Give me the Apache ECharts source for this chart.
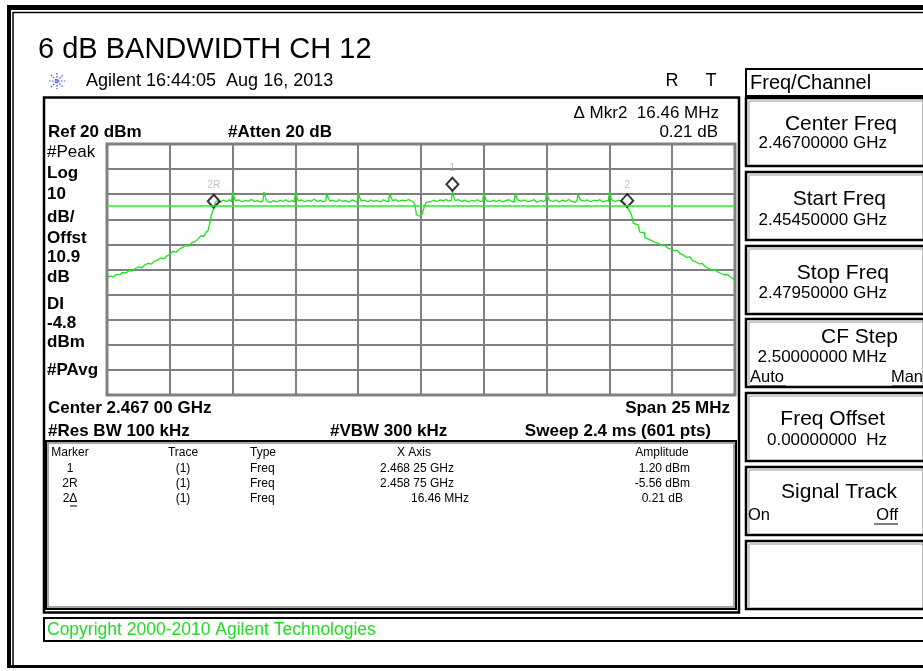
<!DOCTYPE html>
<html><head><meta charset="utf-8">
<script src="https://cdn.jsdelivr.net/npm/echarts@6/dist/echarts.min.js"></script>
<style>html,body{margin:0;padding:0;background:#fff}#c{width:923px;height:671px}</style>
</head><body><div id="c"></div>
<script>
// ---------------- data ----------------
// frequency offset from centre frequency (MHz) and trace level (dBm)
const traceFreqOffsetMHz = [
-12.50,-12.38,-12.25,-12.12,-12.00,-11.88,-11.75,-11.62,-11.50,-11.38,-11.25,-11.12,-11.00,-10.88,-10.75,-10.62,-10.50,-10.38,-10.25,-10.12,
-10.00,-9.88,-9.75,-9.62,-9.50,-9.38,-9.25,-9.12,-9.00,-8.88,-8.75,-8.66,-8.56,-8.48,-8.42,-8.35,-8.25,-8.18,
-8.10,-8.00,-7.88,-7.75,-7.62,-7.54,-7.50,-7.44,-7.38,-7.25,-7.12,-7.00,-6.88,-6.75,-6.62,-6.50,-6.38,-6.29,
-6.25,-6.19,-6.12,-6.00,-5.88,-5.75,-5.62,-5.50,-5.38,-5.25,-5.12,-5.04,
-5.00,-4.94,-4.88,-4.75,-4.62,-4.50,-4.38,-4.25,-4.12,-4.00,-3.88,-3.79,
-3.75,-3.69,-3.62,-3.50,-3.38,-3.25,-3.12,-3.00,-2.88,-2.75,-2.62,-2.54,
-2.50,-2.44,-2.38,-2.25,-2.12,-2.00,-1.88,-1.75,-1.62,-1.50,-1.38,-1.29,
-1.25,-1.19,-1.12,-1.00,-0.88,-0.75,-0.62,-0.50,-0.40,-0.30,-0.24,-0.18,-0.08,0.02,0.09,0.14,0.20,
0.25,0.38,0.50,0.62,0.75,0.88,1.00,1.12,1.21,
1.25,1.31,1.38,1.50,1.62,1.75,1.88,2.00,2.12,2.25,2.38,2.46,
2.50,2.56,2.62,2.75,2.88,3.00,3.12,3.25,3.38,3.50,3.62,3.71,
3.75,3.81,3.88,4.00,4.12,4.25,4.38,4.50,4.62,4.75,4.88,4.96,
5.00,5.06,5.12,5.25,5.38,5.50,5.62,5.75,5.88,6.00,6.12,6.21,
6.25,6.31,6.38,6.50,6.62,6.75,6.88,7.00,7.12,7.25,7.38,7.46,
7.50,7.56,7.62,7.75,7.88,8.00,8.10,8.21,8.30,8.39,8.45,8.55,8.65,8.70,8.80,8.89,8.92,
9.05,9.20,9.32,9.45,9.58,9.70,9.82,9.95,10.08,10.20,10.32,10.45,10.58,10.70,10.82,10.95,
11.08,11.20,11.32,11.45,11.58,11.70,11.82,11.95,12.08,12.20,12.32,12.42,12.50
];
const traceLevelDbm = [
-33.4,-32.6,-32.9,-31.9,-32.1,-31.2,-31.4,-30.4,-30.6,-29.6,-29.0,-29.3,-28.2,-27.6,-27.9,-26.8,-26.3,-25.5,-25.8,-24.6,
-23.9,-22.8,-23.1,-21.9,-21.3,-20.4,-20.7,-19.3,-18.9,-17.8,-16.5,-16.9,-15.2,-14.6,-12.0,-8.5,-5.56,-3.1,
-2.6,-3.2,-2.4,-2.9,-2.2,-3.0,1.2,-1.2,-2.6,-2.3,-3.0,-2.5,-2.8,-2.1,-2.9,-2.6,-3.2,-2.4,
0.9,-1.5,-2.9,-3.3,-2.6,-3.1,-2.4,-2.9,-2.2,-3.0,-2.6,-3.1,
0.7,-1.4,-2.7,-2.3,-3.0,-2.5,-2.8,-2.0,-2.9,-2.4,-3.1,-2.6,
0.5,-1.6,-2.8,-2.4,-3.0,-2.2,-2.9,-2.5,-3.2,-2.3,-2.8,-3.2,
0.6,-1.3,-2.7,-2.4,-3.0,-2.3,-2.9,-2.5,-3.1,-2.2,-2.8,-3.0,
0.4,-1.5,-2.6,-2.2,-2.9,-2.4,-2.7,-2.1,-2.6,-3.2,-4.3,-8.2,-8.7,-8.5,-8.6,-4.8,-3.3,
-2.6,-3.0,-2.4,-2.9,-2.3,-2.7,-2.1,-2.8,-2.5,
1.2,-1.4,-2.6,-2.2,-2.9,-2.4,-3.1,-2.5,-2.8,-2.2,-3.0,-2.6,
0.6,-1.5,-2.7,-3.0,-2.4,-2.9,-2.3,-3.1,-2.6,-2.2,-2.9,-3.2,
0.5,-1.6,-2.5,-2.8,-2.3,-3.0,-2.7,-2.2,-3.2,-2.5,-2.9,-2.4,
0.7,-1.4,-2.6,-2.9,-2.3,-3.1,-2.4,-2.8,-2.1,-2.9,-3.3,-2.6,
0.4,-1.7,-2.5,-2.8,-2.3,-3.0,-2.4,-2.7,-2.2,-3.1,-2.5,-2.8,
1.0,-1.3,-2.6,-2.9,-2.4,-3.2,-3.6,-5.35,-6.5,-8.5,-11.6,-11.9,-12.2,-15.0,-15.3,-15.2,-17.3,
-17.9,-18.6,-19.2,-19.6,-20.5,-20.3,-21.4,-21.9,-22.6,-22.4,-23.7,-24.3,-25.2,-25.0,-26.6,-27.0,
-27.8,-27.6,-28.9,-29.5,-30.3,-30.1,-31.0,-31.6,-32.1,-32.0,-33.1,-33.6,-34.5
];
const markerNames = ['1', '2R', '2'];
const markerFreqOffsetMHz = [1.25, -8.25, 8.21];
const markerLevelDbm = [1.20, -5.56, -5.35];
const displayLineDbm = -4.8;
const refLevelDbm = 20;
const dbPerDiv = 10;
const spanMHz = 25;

const tableHeaders = ['Marker', 'Trace', 'Type', 'X Axis', 'Amplitude'];
const tableMarker = ['1', '2R', '2Δ'];
const tableTrace = ['(1)', '(1)', '(1)'];
const tableType = ['Freq', 'Freq', 'Freq'];
const tableXAxis = ['2.468 25 GHz', '2.458 75 GHz', '16.46 MHz'];
const tableAmplitude = ['1.20 dBm', '-5.56 dBm', '0.21 dB'];

const softkeyTitles = ['Center Freq', 'Start Freq', 'Stop Freq', 'CF Step', 'Freq Offset', 'Signal Track', ''];
const softkeyValues = ['2.46700000 GHz', '2.45450000 GHz', '2.47950000 GHz', '2.50000000 MHz', '0.00000000  Hz', '', ''];

// ---------------- chart ----------------
const FONT = '"Liberation Sans", Arial, sans-serif';
const G = [];
function txt(x, y, s, o) {
  o = o || {};
  G.push({type: 'text', x: x, y: y, silent: true, z: 10,
    style: {text: s, fill: o.c || '#000',
      font: (o.b ? 'bold ' : '') + (o.fs || 17) + 'px ' + FONT,
      textAlign: o.a || 'left', align: o.a || 'left',
      textVerticalAlign: 'middle', verticalAlign: 'middle'}});
}
function rect(x, y, w, h, o) {
  o = o || {};
  G.push({type: 'rect', silent: true, z: o.z || 5, shape: {x: x, y: y, width: w, height: h},
    style: {fill: o.fill || 'none', stroke: o.stroke || null, lineWidth: o.lw || 1}});
}
function line(x1, y1, x2, y2, o) {
  o = o || {};
  G.push({type: 'line', silent: true, z: o.z || 6, shape: {x1: x1, y1: y1, x2: x2, y2: y2},
    style: {stroke: o.stroke || '#000', lineWidth: o.lw || 1, lineDash: o.dash || null}});
}

// outer frame
rect(7, 5, 916, 5, {fill: '#000'});
line(13, 12.5, 923, 12.5, {lw: 1.5});
rect(7, 5, 4, 663, {fill: '#000'});
line(13, 12, 13, 665, {lw: 1.5});
rect(7, 665, 916, 3, {fill: '#000'});

// title & header
txt(38, 50, '6 dB BANDWIDTH CH 12', {fs: 29});
// agilent logo
[[0, -8, 0, 8], [-8, 0, 8, 0], [-6, -6, 6, 6], [-6, 6, 6, -6]].forEach(function (s) {
  line(57 + s[0], 81 + s[1], 57 + s[2], 81 + s[3], {stroke: '#3344ff', lw: 1.2, dash: [1.5, 1.5]});
});
txt(86, 81, 'Agilent 16:44:05  Aug 16, 2013', {fs: 18});
txt(672, 81, 'R', {fs: 18, a: 'center'});
txt(711, 81, 'T', {fs: 18, a: 'center'});

// main display box
rect(44, 97.5, 695, 515, {stroke: '#000', lw: 2.5});
txt(719, 113, 'Δ Mkr2  16.46 MHz', {fs: 17, a: 'right'});
txt(718, 132, '0.21 dB', {fs: 17, a: 'right'});
txt(48, 132, 'Ref 20 dBm', {fs: 17, b: true});
txt(228, 132, '#Atten 20 dB', {fs: 17, b: true});
const leftLabels = [['#Peak', 152, false], ['Log', 173, true], ['10', 194, true], ['dB/', 217, true],
  ['Offst', 238, true], ['10.9', 257, true], ['dB', 277, true], ['DI', 304, true], ['-4.8', 323, true],
  ['dBm', 342, true], ['#PAvg', 370, true]];
leftLabels.forEach(function (l) { txt(47, l[1], l[0], {fs: 17, b: l[2]}); });
txt(48, 408, 'Center 2.467 00 GHz', {fs: 17, b: true});
txt(730, 408, 'Span 25 MHz', {fs: 17, b: true, a: 'right'});
txt(48, 431, '#Res BW 100 kHz', {fs: 17, b: true});
txt(330, 431, '#VBW 300 kHz', {fs: 17, b: true});
txt(711, 431, 'Sweep 2.4 ms (601 pts)', {fs: 17, b: true, a: 'right'});

// marker table
rect(46, 441, 690, 168, {stroke: '#000', lw: 2});
rect(48, 443, 686, 164, {stroke: '#888', lw: 1.5});
const colX = [70, 183, 250, 414, 662];
const colA = ['center', 'center', 'left', 'center', 'center'];
tableHeaders.forEach(function (h, i) { txt(colX[i], 453, h, {fs: 12, a: colA[i]}); });
const rowY = [469, 484, 499];
for (let r = 0; r < 3; r++) {
  txt(70, rowY[r], tableMarker[r], {fs: 12, a: 'center'});
  txt(183, rowY[r], tableTrace[r], {fs: 12, a: 'center'});
  txt(250, rowY[r], tableType[r], {fs: 12});
  txt(r < 2 ? 454 : 469, rowY[r], tableXAxis[r], {fs: 12, a: 'right'});
  txt(r === 2 ? 683 : 690, rowY[r], tableAmplitude[r], {fs: 12, a: 'right'});
}
line(70, 506, 77, 506, {lw: 1});

// copyright bar
rect(44, 618, 880, 23, {stroke: '#000', lw: 2});
txt(47, 630, 'Copyright 2000-2010 Agilent Technologies', {fs: 17.5, c: '#22dd22'});

// right panel
rect(746, 69, 178, 27, {stroke: '#000', lw: 2});
txt(750, 83, 'Freq/Channel', {fs: 20});
const skTop = [98, 172, 246, 319, 393, 467, 541];
const skTitleDy = [26, 27, 27, 18, 26, 25, 0];
const skValueDy = [45, 48, 47, 38, 47, 0, 0];
const skTitleRight = [897, 886, 889, 898, 885, 897, 0];
skTop.forEach(function (t, i) {
  rect(746, t, 178, 68, {stroke: '#000', lw: 2.5});
  line(749, t + 3, 923, t + 3, {stroke: '#999', lw: 1});
  line(749, t + 3, 749, t + 66, {stroke: '#999', lw: 1});
  if (softkeyTitles[i]) txt(skTitleRight[i], t + skTitleDy[i], softkeyTitles[i], {fs: 21, a: 'right'});
  if (softkeyValues[i]) txt(887, t + skValueDy[i], softkeyValues[i], {fs: 17, a: 'right'});
});
txt(750, 377, 'Auto', {fs: 16.5});
line(750, 386, 786, 386);
txt(923, 377, 'Man', {fs: 16.5, a: 'right'});
line(892, 386, 923, 386);
txt(748, 515, 'On', {fs: 16.5});
txt(898, 515, 'Off', {fs: 16.5, a: 'right'});
line(874, 524, 898, 524);

const traceData = traceFreqOffsetMHz.map(function (f, i) { return [f, traceLevelDbm[i]]; });
const markerData = markerNames.map(function (n, i) { return {name: n, value: [markerFreqOffsetMHz[i], markerLevelDbm[i]]}; });

const chart = echarts.init(document.getElementById('c'), null, {renderer: 'canvas'});
chart.setOption({
  animation: false,
  backgroundColor: '#fff',
  grid: {left: 107, top: 144, width: 628, height: 251, show: true, borderColor: '#808080', borderWidth: 3, backgroundColor: '#fff'},
  xAxis: {type: 'value', min: -spanMHz / 2, max: spanMHz / 2, interval: spanMHz / 10,
    axisLine: {show: false}, axisTick: {show: false}, axisLabel: {show: false},
    splitLine: {show: true, lineStyle: {color: '#808080', width: 2}}},
  yAxis: {type: 'value', min: refLevelDbm - 10 * dbPerDiv, max: refLevelDbm, interval: dbPerDiv,
    axisLine: {show: false}, axisTick: {show: false}, axisLabel: {show: false},
    splitLine: {show: true, lineStyle: {color: '#808080', width: 2}}},
  series: [
    {type: 'line', data: traceData, symbol: 'none', lineStyle: {color: '#1ee01e', width: 1.3},
      z: 3,
      markLine: {silent: true, symbol: 'none', label: {show: false},
        lineStyle: {color: '#22ee22', type: 'solid', width: 1.5},
        data: [{yAxis: displayLineDbm}]}},
    {type: 'scatter', data: markerData, symbol: 'diamond', symbolSize: [12, 13], symbolOffset: [0, -7],
      itemStyle: {color: 'rgba(255,255,255,0)', borderColor: '#000', borderWidth: 2}, z: 4,
      label: {show: true, position: 'top', distance: 3, formatter: '{b}', color: '#b0b0b0', fontSize: 10, fontFamily: FONT}}
  ],
  graphic: {elements: G}
});
</script></body></html>
